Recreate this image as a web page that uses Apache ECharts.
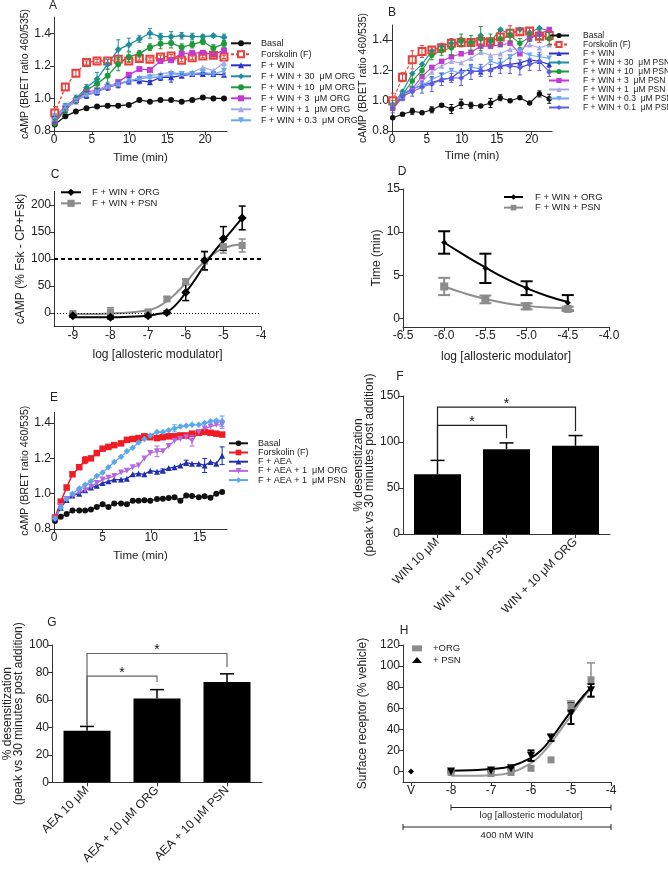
<!DOCTYPE html>
<html>
<head>
<meta charset="utf-8">
<script src="https://cdn.jsdelivr.net/npm/echarts@6/dist/echarts.min.js"></script>
<style>
html, body { margin: 0; padding: 0; background: #fff; }
#chart { width: 668px; height: 874px; }
</style>
</head>
<body>
<div id="chart"></div>
<script>
// ---------------- data ----------------
var timeAB = [0.1, 1.5, 2.9, 4.3, 5.7, 7.1, 8.5, 9.9, 11.3, 12.7, 14.1, 15.5, 16.9, 18.3, 19.7, 21.1, 22.5];

// panel A (ORG)
var aBasal = [0.84, 0.89, 0.92, 0.94, 0.95, 0.955, 0.955, 0.96, 0.99, 0.98, 0.99, 0.99, 0.98, 0.99, 1.005, 1.0, 1.0];
var aForsk = [0.91, 1.07, 1.155, 1.22, 1.23, 1.23, 1.24, 1.23, 1.245, 1.24, 1.255, 1.26, 1.235, 1.25, 1.26, 1.265, 1.255];
var aWin = [0.87, 0.93, 0.99, 1.02, 1.04, 1.07, 1.085, 1.11, 1.11, 1.10, 1.13, 1.13, 1.14, 1.15, 1.15, 1.15, 1.145];
var aOrg30 = [0.88, 0.95, 1.0, 1.065, 1.12, 1.21, 1.30, 1.33, 1.365, 1.40, 1.38, 1.38, 1.385, 1.38, 1.38, 1.385, 1.375];
var aOrg10 = [0.85, 0.93, 0.99, 1.05, 1.09, 1.14, 1.21, 1.255, 1.275, 1.315, 1.335, 1.34, 1.315, 1.33, 1.35, 1.31, 1.335];
var aOrg3 = [0.86, 0.94, 0.99, 1.04, 1.05, 1.07, 1.10, 1.145, 1.18, 1.175, 1.23, 1.235, 1.275, 1.28, 1.28, 1.27, 1.295];
var aOrg1 = [0.88, 0.94, 0.98, 1.03, 1.05, 1.08, 1.09, 1.10, 1.13, 1.14, 1.15, 1.16, 1.15, 1.16, 1.19, 1.17, 1.22];
var aOrg03 = [0.89, 0.95, 0.99, 1.02, 1.04, 1.07, 1.09, 1.11, 1.12, 1.13, 1.13, 1.15, 1.15, 1.15, 1.16, 1.15, 1.17];
var aForskErr = [0.04, 0.02, 0.02, 0.01, 0.01, 0.01, 0.01, 0.01, 0.01, 0.01, 0.01, 0.01, 0.01, 0.01, 0.01, 0.01, 0.01];
var aWinErr = [0.02, 0.02, 0.02, 0.02, 0.02, 0.02, 0.02, 0.02, 0.02, 0.01, 0.02, 0.03, 0.01, 0.01, 0.01, 0.01, 0.01];
var aOrg30Err = [0.02, 0.02, 0.02, 0.02, 0.04, 0.03, 0.06, 0.04, 0.02, 0.03, 0.02, 0.03, 0.02, 0.02, 0.01, 0.01, 0.02];
var aOrg10Err = [0.02, 0.02, 0.02, 0.02, 0.03, 0.04, 0.04, 0.03, 0.02, 0.02, 0.03, 0.03, 0.02, 0.02, 0.02, 0.02, 0.02];
var aOrg03Err = [0.01, 0.01, 0.01, 0.01, 0.01, 0.01, 0.01, 0.01, 0.01, 0.01, 0.01, 0.01, 0.01, 0.01, 0.01, 0.01, 0.03];

// panel B (PSN)
var bBasal = [0.888, 0.91, 0.93, 0.92, 0.94, 0.97, 0.945, 0.98, 0.97, 0.965, 0.985, 1.02, 1.0, 1.02, 0.985, 1.045, 1.013];
var bForsk = [1.0, 1.155, 1.27, 1.325, 1.335, 1.35, 1.38, 1.385, 1.385, 1.39, 1.39, 1.42, 1.445, 1.455, 1.46, 1.425, 1.43];
var bWin = [0.96, 1.04, 1.08, 1.10, 1.12, 1.14, 1.15, 1.20, 1.20, 1.19, 1.21, 1.23, 1.24, 1.25, 1.27, 1.26, 1.24];
var bPsn30 = [0.97, 1.06, 1.18, 1.24, 1.33, 1.36, 1.38, 1.39, 1.39, 1.43, 1.39, 1.47, 1.44, 1.47, 1.45, 1.48, 1.46];
var bPsn10 = [0.97, 1.04, 1.13, 1.20, 1.30, 1.33, 1.35, 1.40, 1.38, 1.41, 1.40, 1.41, 1.43, 1.38, 1.42, 1.44, 1.41];
var bPsn3 = [0.95, 1.02, 1.08, 1.16, 1.22, 1.26, 1.29, 1.31, 1.32, 1.36, 1.36, 1.37, 1.38, 1.31, 1.41, 1.44, 1.47];
var bPsn1 = [0.96, 1.03, 1.07, 1.13, 1.19, 1.23, 1.26, 1.25, 1.28, 1.32, 1.30, 1.31, 1.34, 1.34, 1.37, 1.35, 1.37];
var bPsn03 = [0.97, 1.05, 1.08, 1.10, 1.14, 1.17, 1.20, 1.18, 1.22, 1.21, 1.26, 1.24, 1.29, 1.33, 1.30, 1.29, 1.28];
var bPsn01 = [0.95, 1.03, 1.06, 1.09, 1.11, 1.14, 1.15, 1.15, 1.19, 1.20, 1.20, 1.23, 1.23, 1.22, 1.24, 1.26, 1.19];
var bBasalErr = [0.01, 0.01, 0.02, 0.01, 0.02, 0.01, 0.03, 0.03, 0.02, 0.01, 0.03, 0.02, 0.01, 0.01, 0.01, 0.02, 0.03];
var bForskErr = [0.05, 0.03, 0.06, 0.04, 0.02, 0.03, 0.03, 0.03, 0.02, 0.03, 0.02, 0.04, 0.05, 0.02, 0.02, 0.04, 0.03];
var bPsn10Err = [0.03, 0.03, 0.04, 0.03, 0.03, 0.03, 0.05, 0.04, 0.05, 0.08, 0.04, 0.05, 0.04, 0.03, 0.03, 0.03, 0.04];
var bPsn01Err = [0.03, 0.03, 0.03, 0.04, 0.05, 0.04, 0.03, 0.05, 0.05, 0.04, 0.04, 0.05, 0.05, 0.05, 0.04, 0.06, 0.03];

// panel C (concentration response)
var cX = [-9, -8, -7, -6.5, -6, -5.5, -5, -4.5];
var cOrg = [-5, -8, -5, 1, 38, 97, 138, 176];
var cOrgErr = [3, 3, 3, 3, 15, 17, 22, 22];
var cPsn = [-1, 2, 2, 26, 58, 96, 123, 125];
var cPsnErr = [2, 8, 3, 4, 5, 17, 12, 12];
var cCurveX = [-9, -8.5, -8, -7.5, -7, -6.75, -6.5, -6.25, -6, -5.75, -5.5, -5.25, -5, -4.75, -4.5];
var cOrgCurve = [-8, -8, -8, -7, -5, -2, 2, 16, 38, 62, 89, 113, 134, 155, 176];
var cPsnCurve = [-2, -2, -1, 1, 5, 11, 22, 37, 56, 77, 96, 110, 120, 125, 127];

// panel D (time to peak)
var dX = [-6, -5.5, -5, -4.5];
var dOrg = [8.8, 5.8, 3.5, 1.8];
var dOrgErr = [1.3, 1.7, 0.8, 0.9];
var dPsn = [3.7, 2.2, 1.4, 1.1];
var dPsnErr = [1.0, 0.45, 0.35, 0.25];
var dCurveX = [-6, -5.75, -5.5, -5.25, -5, -4.75, -4.5];
var dOrgCurve = [8.8, 7.3, 5.9, 4.6, 3.5, 2.6, 1.9];
var dPsnCurve = [3.7, 2.9, 2.25, 1.75, 1.45, 1.25, 1.15];

// panel E (AEA)
var timeE = [0.1, 0.7, 1.3, 1.9, 2.6, 3.2, 3.8, 4.4, 5.0, 5.6, 6.2, 6.9, 7.5, 8.1, 8.7, 9.3, 9.9, 10.6, 11.2, 11.8, 12.4, 13.0, 13.6, 14.2, 14.9, 15.5, 16.1, 16.7, 17.3];
var eBasal = [0.845, 0.87, 0.885, 0.905, 0.905, 0.905, 0.91, 0.925, 0.94, 0.925, 0.945, 0.945, 0.94, 0.96, 0.96, 0.963, 0.96, 0.97, 0.972, 0.975, 0.98, 0.96, 0.99, 0.987, 0.98, 0.985, 0.977, 1.0, 1.01];
var eForsk = [0.865, 0.955, 1.035, 1.11, 1.15, 1.19, 1.2, 1.23, 1.255, 1.265, 1.275, 1.285, 1.305, 1.31, 1.315, 1.325, 1.32, 1.315, 1.32, 1.325, 1.325, 1.33, 1.33, 1.34, 1.345, 1.35, 1.345, 1.34, 1.335];
var eAea = [0.86, 0.92, 0.965, 0.99, 1.0, 1.02, 1.035, 1.045, 1.06, 1.07, 1.08, 1.08, 1.085, 1.11, 1.115, 1.11, 1.13, 1.125, 1.13, 1.145, 1.15, 1.16, 1.175, 1.17, 1.17, 1.16, 1.18, 1.17, 1.215];
var eOrg = [0.86, 0.93, 0.97, 0.99, 1.01, 1.02, 1.04, 1.06, 1.08, 1.09, 1.10, 1.12, 1.13, 1.15, 1.16, 1.20, 1.23, 1.24, 1.24, 1.27, 1.30, 1.31, 1.32, 1.30, 1.35, 1.37, 1.38, 1.39, 1.39];
var ePsn = [0.86, 0.92, 0.97, 1.00, 1.03, 1.05, 1.07, 1.10, 1.12, 1.15, 1.18, 1.21, 1.24, 1.26, 1.29, 1.31, 1.33, 1.35, 1.35, 1.36, 1.37, 1.38, 1.385, 1.39, 1.39, 1.40, 1.41, 1.415, 1.41];
var eForskErr = [0, 0, 0, 0, 0, 0.02, 0, 0, 0, 0, 0, 0, 0, 0, 0, 0, 0, 0, 0, 0, 0, 0, 0, 0, 0, 0, 0, 0, 0];
var eAeaErr = [0, 0, 0, 0, 0, 0, 0, 0, 0, 0, 0, 0, 0, 0, 0, 0, 0, 0, 0.01, 0, 0, 0, 0.015, 0, 0, 0.04, 0, 0, 0.05];
var eOrgErr = [0, 0, 0, 0, 0, 0, 0, 0, 0, 0, 0, 0, 0, 0, 0, 0, 0, 0.03, 0, 0, 0, 0, 0, 0.03, 0, 0, 0, 0, 0.02];
var ePsnErr = [0, 0, 0, 0, 0, 0, 0, 0, 0, 0, 0, 0, 0, 0, 0, 0, 0, 0, 0, 0, 0.02, 0, 0, 0, 0, 0, 0, 0, 0.03];

// panel F (WIN desensitization)
var fCats = ['WIN 10 μM', 'WIN + 10 μM PSN', 'WIN + 10 μM ORG'];
var fVals = [65, 92, 96];
var fErr = [15, 7, 11];
// [from, to, level, left foot, right foot]
var fBrackets = [[0, 2, 138, 80, 112], [0, 1, 118, 80, 104]];

// panel G (AEA desensitization)
var gCats = ['AEA 10 μM', 'AEA + 10 μM ORG', 'AEA + 10 μM PSN'];
var gVals = [37.5, 61, 73];
var gErr = [3.2, 6.5, 6];
var gBrackets = [[0, 2, 93.8, 41, 84], [0, 1, 77.3, 41, 73]];

// panel H (surface receptor)
var hX = [-8, -7, -6.5, -6, -5.5, -5, -4.5];
var hOrg = [-1, -2, -1, 3, 11, 62, 87];
var hOrgErr = [0, 0, 0, 0, 0, 5, 16];
var hPsn = [0, 1, 3, 15, 32, 55, 77];
var hPsnErr = [1, 1, 1, 5, 3, 10, 6];
var hVehX = [-9];
var hVeh = [0];
var hCurveX = [-8, -7.5, -7, -6.5, -6, -5.75, -5.5, -5.25, -5, -4.75, -4.5];
var hPsnCurve = [0.7, 1.2, 2.3, 5, 13, 20, 31, 44, 57, 69, 80];
var hOrgCurve = [-4, -4, -3.5, -1, 8, 16, 27, 40, 53, 67, 79];
var hSpans = [[-8, -4], [-9.2, -4]];
var hSpanLabels = ['log [allosteric modulator]', '400 nM WIN'];

// tick values
var tTime = [0, 5, 10, 15, 20];
var tTimeE = [0, 5, 10, 15];
var tBret = [0.8, 1.0, 1.2, 1.4];
var tLog = [-9, -8, -7, -6, -5, -4];
var tC = [0, 50, 100, 150, 200];
var tDx = [-6.5, -6.0, -5.5, -5.0, -4.5, -4.0];
var tDy = [0, 5, 10, 15];
var tF = [0, 50, 100, 150];
var tG = [0, 20, 40, 60, 80, 100];
var tHx = [-9, -8, -7, -6, -5, -4];
var tHy = [0, 20, 40, 60, 80, 100, 120];

// ---------------- chart ----------------
var FONT = 'Liberation Sans, Arial, sans-serif';
var GRAY = '#8c8c8c';

function fixed1(v) { return v.toFixed(1); }

function valAxis(grid, min, max, ticks, o) {
  o = o || {};
  return {
    type: 'value', gridIndex: grid, min: min, max: max,
    axisLine: { show: true, onZero: false, lineStyle: { color: '#333', width: 1 } },
    axisTick: { show: true, length: 4, inside: false, customValues: ticks, lineStyle: { color: '#333' } },
    axisLabel: { customValues: ticks, fontSize: 12, color: '#222', fontFamily: FONT, margin: 3, formatter: o.fmt },
    splitLine: { show: false },
    name: o.name || '', nameLocation: 'middle', nameGap: o.gap || 20,
    nameTextStyle: { fontSize: o.nameSize || 12, color: '#222', fontFamily: FONT, lineHeight: o.lineHeight }
  };
}
function catAxis(grid, cats) {
  return {
    type: 'category', gridIndex: grid, data: cats, boundaryGap: true,
    axisLine: { show: true, lineStyle: { color: '#333', width: 1 } },
    axisTick: { show: true, length: 4, alignWithLabel: true, lineStyle: { color: '#333' } },
    axisLabel: { fontSize: 12, color: '#222', fontFamily: FONT, rotate: 45, margin: 6, interval: 0 },
    splitLine: { show: false }
  };
}

var grids = [
  { left: 54, top: 17, width: 173, height: 114 },    // A
  { left: 392, top: 25, width: 160, height: 106 },   // B
  { left: 54, top: 191.5, width: 207, height: 135 }, // C
  { left: 403, top: 189, width: 206, height: 138 },  // D
  { left: 54, top: 412.5, width: 173, height: 116.5 }, // E
  { left: 403, top: 396, width: 207, height: 138 },  // F
  { left: 52, top: 645, width: 210, height: 137.3 }, // G
  { left: 403, top: 645, width: 208, height: 137 }   // H
];

var xAxes = [
  valAxis(0, 0, 22.9, tTime, { name: 'Time (min)', gap: 21, nameSize: 11.5 }),
  valAxis(1, 0, 22.9, tTime, { name: 'Time (min)', gap: 18.5, nameSize: 11.5 }),
  valAxis(2, -9.5, -4, tLog, { name: 'log [allosteric modulator]', gap: 22 }),
  valAxis(3, -6.5, -4, tDx, { name: 'log [allosteric modulator]', gap: 24, fmt: fixed1 }),
  valAxis(4, 0, 17.8, tTimeE, { name: 'Time (min)', gap: 21, nameSize: 11.5 }),
  catAxis(5, fCats),
  catAxis(6, gCats),
  valAxis(7, -9.2, -4, tHx, { fmt: function (v) { return v === -9 ? 'V' : String(v); } })
];
var yAxes = [
  valAxis(0, 0.8, 1.5, tBret, { name: 'cAMP (BRET ratio 460/535)', gap: 21, nameSize: 10.5, fmt: fixed1 }),
  valAxis(1, 0.8, 1.5, tBret, { name: 'cAMP (BRET ratio 460/535)', gap: 20, nameSize: 10.5, fmt: fixed1 }),
  valAxis(2, -25, 225, tC, { name: 'cAMP (% Fsk - CP+Fsk)', gap: 23 }),
  valAxis(3, -1, 15, tDy, { name: 'Time (min)', gap: 19 }),
  valAxis(4, 0.8, 1.46, tBret, { name: 'cAMP (BRET ratio 460/535)', gap: 23, nameSize: 10.5, fmt: fixed1 }),
  valAxis(5, 0, 150, tF, { name: '% desensitization\n(peak vs 30 minutes post addition)', gap: 28, lineHeight: 11 }),
  valAxis(6, 0, 100, tG, { name: '% desensitization\n(peak vs 30 minutes post addition)', gap: 28, lineHeight: 11 }),
  valAxis(7, -10, 120, tHy, { name: 'Surface receptor (% vehicle)', gap: 34 })
];

var series = [];

function pairs(xs, ys) { return xs.map(function (x, i) { return [x, ys[i]]; }); }

function addLine(g, name, xs, ys, color, symbol, size, o) {
  o = o || {};
  series.push({
    type: 'line', name: name, xAxisIndex: g, yAxisIndex: g,
    data: pairs(xs, ys),
    symbol: symbol, symbolSize: size, symbolRotate: o.rotate || 0,
    showSymbol: o.showSymbol !== false, smooth: o.smooth || false,
    lineStyle: { color: color, width: o.width || 1.3, type: o.dash || 'solid' },
    itemStyle: { color: color, borderWidth: o.border || 0, borderColor: color },
    z: o.z || 3, silent: true, animation: false, markLine: o.markLine
  });
}
function addScatter(g, name, xs, ys, color, symbol, size, rotate, z) {
  series.push({
    type: 'scatter', name: name, xAxisIndex: g, yAxisIndex: g,
    data: pairs(xs, ys), symbol: symbol, symbolSize: size, symbolRotate: rotate || 0,
    itemStyle: { color: color, opacity: 1 }, z: z || 5, silent: true, animation: false
  });
}
function addErr(g, xs, ys, es, color, cap, width, upOnly) {
  var items = [];
  xs.forEach(function (x, i) {
    if (!es[i]) return;
    items.push([x, upOnly ? ys[i] : ys[i] - es[i], ys[i] + es[i]]);
  });
  series.push({
    type: 'custom', xAxisIndex: g, yAxisIndex: g, data: items, silent: true, z: 4,
    encode: { x: 0, y: [1, 2] },
    renderItem: function (params, api) {
      var lo = api.coord([api.value(0), api.value(1)]);
      var hi = api.coord([api.value(0), api.value(2)]);
      var st = { stroke: color, lineWidth: width, fill: null };
      var kids = [
        { type: 'line', shape: { x1: lo[0], y1: lo[1], x2: hi[0], y2: hi[1] }, style: st },
        { type: 'line', shape: { x1: hi[0] - cap, y1: hi[1], x2: hi[0] + cap, y2: hi[1] }, style: st }
      ];
      if (!upOnly) kids.push({ type: 'line', shape: { x1: lo[0] - cap, y1: lo[1], x2: lo[0] + cap, y2: lo[1] }, style: st });
      return { type: 'group', children: kids };
    }
  });
}
function addBrackets(g, items, color) {
  series.push({
    type: 'custom', xAxisIndex: g, yAxisIndex: g, data: items, silent: true, z: 6,
    encode: { x: [0, 1], y: [2, 3, 4] },
    renderItem: function (params, api) {
      var a = api.value(0), b = api.value(1), y = api.value(2);
      var p1 = api.coord([a, api.value(3)]), p2 = api.coord([a, y]);
      var p3 = api.coord([b, y]), p4 = api.coord([b, api.value(4)]);
      return {
        type: 'group', children: [
          { type: 'polyline', shape: { points: [p1, p2, p3, p4] }, style: { stroke: color, lineWidth: 1.2, fill: null } },
          { type: 'text', x: (p2[0] + p3[0]) / 2, y: p2[1] - 3,
            style: { text: '*', fontSize: 14, fontFamily: FONT, fill: '#111', align: 'center', verticalAlign: 'middle' } }
        ]
      };
    }
  });
}

// A
var blue = '#2a35c8', teal = '#1f8e9e', green = '#1e9a3a', mag = '#c23ad6', lav = '#a9a8e6', lblue = '#6aa8f0', red = '#e8403a';
addLine(0, 'A|Basal', timeAB, aBasal, '#111', 'circle', 6);
addLine(0, 'A|Forskolin (F)', timeAB, aForsk, red, 'emptyRect', 7, { dash: [3, 2], border: 1.3 });
addLine(0, 'A|F + WIN', timeAB, aWin, blue, 'triangle', 6);
addLine(0, 'A|F + WIN + 30  μM ORG', timeAB, aOrg30, teal, 'diamond', 7);
addLine(0, 'A|F + WIN + 10  μM ORG', timeAB, aOrg10, green, 'circle', 6);
addLine(0, 'A|F + WIN + 3  μM ORG', timeAB, aOrg3, mag, 'rect', 6);
addLine(0, 'A|F + WIN + 1  μM ORG', timeAB, aOrg1, lav, 'triangle', 6);
addLine(0, 'A|F + WIN + 0.3  μM ORG', timeAB, aOrg03, lblue, 'triangle', 6, { rotate: 180 });
addErr(0, timeAB, aForsk, aForskErr, red, 2, 1, false);
addErr(0, timeAB, aWin, aWinErr, blue, 2, 1, false);
addErr(0, timeAB, aOrg30, aOrg30Err, teal, 2, 1, false);
addErr(0, timeAB, aOrg10, aOrg10Err, green, 2, 1, false);
addErr(0, timeAB, aOrg03, aOrg03Err, lblue, 2, 1, false);

// B
var violet = '#5c5ce6';
addLine(1, 'B|Basal', timeAB, bBasal, '#111', 'circle', 5.5, { width: 1.1 });
addLine(1, 'B|Forskolin (F)', timeAB, bForsk, red, 'emptyRect', 7, { dash: [3, 2], width: 1.1, border: 1.2 });
addLine(1, 'B|F + WIN', timeAB, bWin, blue, 'triangle', 5.5, { width: 1.1 });
addLine(1, 'B|F + WIN + 30  μM PSN', timeAB, bPsn30, teal, 'diamond', 6.5, { width: 1.1 });
addLine(1, 'B|F + WIN + 10  μM PSN', timeAB, bPsn10, green, 'circle', 5.5, { width: 1.1 });
addLine(1, 'B|F + WIN + 3  μM PSN', timeAB, bPsn3, mag, 'rect', 5.5, { width: 1.1 });
addLine(1, 'B|F + WIN + 1  μM PSN', timeAB, bPsn1, lav, 'triangle', 5.5, { width: 1.1 });
addLine(1, 'B|F + WIN + 0.3  μM PSN', timeAB, bPsn03, lblue, 'triangle', 5.5, { rotate: 180, width: 1.1 });
addLine(1, 'B|F + WIN + 0.1  μM PSN', timeAB, bPsn01, violet, 'diamond', 6, { width: 1.1 });
addErr(1, timeAB, bBasal, bBasalErr, '#111', 2, 1, false);
addErr(1, timeAB, bForsk, bForskErr, red, 2, 1, false);
addErr(1, timeAB, bPsn10, bPsn10Err, green, 2, 1, false);
addErr(1, timeAB, bPsn01, bPsn01Err, violet, 2, 1, false);

// C
addLine(2, 'C|F + WIN + PSN', cCurveX, cPsnCurve, GRAY, 'rect', 7, {
  showSymbol: false, smooth: true, width: 2,
  markLine: {
    silent: true, symbol: 'none', label: { show: false }, animation: false,
    data: [
      { yAxis: 100, lineStyle: { type: [4, 3], width: 2, color: '#000' } },
      { yAxis: 0, lineStyle: { type: [1, 2], width: 1, color: '#000' } }
    ]
  }
});
addLine(2, 'C|F + WIN + ORG', cCurveX, cOrgCurve, '#000', 'diamond', 9, { showSymbol: false, smooth: true, width: 2 });
addErr(2, cX, cPsn, cPsnErr, GRAY, 3.5, 1.5, false);
addErr(2, cX, cOrg, cOrgErr, '#000', 3.5, 1.5, false);
addScatter(2, 'c_psn', cX, cPsn, GRAY, 'rect', 7);
addScatter(2, 'c_org', cX, cOrg, '#000', 'diamond', 9);

// D
addLine(3, 'D|F + WIN + ORG', dCurveX, dOrgCurve, '#000', 'diamond', 6, { showSymbol: false, smooth: true, width: 2 });
addLine(3, 'D|F + WIN + PSN', dCurveX, dPsnCurve, GRAY, 'rect', 7, { showSymbol: false, smooth: true, width: 2 });
addErr(3, dX, dOrg, dOrgErr, '#000', 6, 2, false);
addErr(3, dX, dPsn, dPsnErr, GRAY, 6, 2, false);
addScatter(3, 'd_org', dX, dOrg, '#000', 'diamond', 6);
addScatter(3, 'd_psn', dX, dPsn, GRAY, 'rect', 8);

// E
var eRed = '#ee1c24', eBlue = '#1f2fb0', eViolet = '#b768e0', eLight = '#5aa7ee';
addLine(4, 'E|Basal', timeE, eBasal, '#111', 'circle', 6);
addLine(4, 'E|Forskolin (F)', timeE, eForsk, eRed, 'rect', 6.5, { width: 1.5 });
addLine(4, 'E|F + AEA', timeE, eAea, eBlue, 'triangle', 6);
addLine(4, 'E|F + AEA + 1  μM ORG', timeE, eOrg, eViolet, 'triangle', 6, { rotate: 180 });
addLine(4, 'E|F + AEA + 1  μM PSN', timeE, ePsn, eLight, 'diamond', 6.5);
addErr(4, timeE, eForsk, eForskErr, eRed, 2, 1, false);
addErr(4, timeE, eAea, eAeaErr, eBlue, 2.5, 1, false);
addErr(4, timeE, eOrg, eOrgErr, eViolet, 2.5, 1, false);
addErr(4, timeE, ePsn, ePsnErr, eLight, 2.5, 1, false);

// F
series.push({ type: 'bar', xAxisIndex: 5, yAxisIndex: 5, data: fVals, barWidth: 47, itemStyle: { color: '#000' }, silent: true, z: 2 });
addErr(5, [0, 1, 2], fVals, fErr, '#000', 7, 1.5, true);
addBrackets(5, fBrackets, '#222');

// G
series.push({ type: 'bar', xAxisIndex: 6, yAxisIndex: 6, data: gVals, barWidth: 47, itemStyle: { color: '#000' }, silent: true, z: 2 });
addErr(6, [0, 1, 2], gVals, gErr, '#000', 7, 1.5, true);
addBrackets(6, gBrackets, '#666');

// H
addLine(7, 'h_org_fit', hCurveX, hOrgCurve, '#9a9a9a', 'none', 0, { showSymbol: false, smooth: true, width: 2 });
addLine(7, 'h_psn_fit', hCurveX, hPsnCurve, '#000', 'none', 0, { showSymbol: false, smooth: true, width: 2 });
addErr(7, hX, hOrg, hOrgErr, GRAY, 4, 1.5, false);
addErr(7, hX, hPsn, hPsnErr, '#000', 3.5, 2, false);
addScatter(7, 'H|+ORG', hX, hOrg, GRAY, 'rect', 7);
addScatter(7, 'H|+ PSN', hX, hPsn, '#000', 'triangle', 8, 180);
addScatter(7, 'h_vehicle', hVehX, hVeh, '#000', 'diamond', 6);
series.push({
  type: 'custom', xAxisIndex: 7, yAxisIndex: 7, data: hSpans, silent: true, z: 6, clip: false,
  encode: { x: [0, 1] },
  renderItem: function (params, api) {
    var off = [25.5, 45][params.dataIndex];
    var p0 = api.coord([api.value(0), -10]), p1 = api.coord([api.value(1), -10]);
    var y = p0[1] + off;
    var st = { stroke: '#222', lineWidth: 1, fill: null };
    return {
      type: 'group', children: [
        { type: 'line', shape: { x1: p0[0], y1: y, x2: p1[0], y2: y }, style: st },
        { type: 'line', shape: { x1: p0[0], y1: y - 3, x2: p0[0], y2: y + 3 }, style: st },
        { type: 'line', shape: { x1: p1[0], y1: y - 3, x2: p1[0], y2: y + 3 }, style: st },
        { type: 'text', x: (p0[0] + p1[0]) / 2, y: y + 3,
          style: { text: hSpanLabels[params.dataIndex], fontSize: 9.5, fontFamily: FONT, fill: '#222', align: 'center', verticalAlign: 'top' } }
      ]
    };
  }
});

function names(prefix, order) {
  var list = series.filter(function (s) { return s.name && s.name.indexOf(prefix + '|') === 0; })
    .map(function (s) { return s.name; });
  return order ? order.map(function (k) { return prefix + '|' + k; }) : list;
}
function legend(prefix, left, top, iw, ih, fs, lh, pad, order) {
  return {
    data: names(prefix, order), orient: 'vertical', left: left, top: top, padding: 0,
    itemWidth: iw, itemHeight: ih, itemGap: 0, selectedMode: false,
    formatter: function (n) { return n.split('|')[1]; },
    textStyle: { fontSize: fs, lineHeight: lh, color: '#222', fontFamily: FONT, padding: [0, 0, 0, pad] }
  };
}

var panelLabels = [['A', 53, 6], ['B', 392, 13], ['C', 55, 175], ['D', 402, 172], ['E', 54, 398], ['F', 400, 377], ['G', 52, 623], ['H', 404, 631]];

var chart = echarts.init(document.getElementById('chart'), null, { renderer: 'canvas' });
chart.setOption({
  animation: false,
  backgroundColor: '#fff',
  grid: grids,
  xAxis: xAxes,
  yAxis: yAxes,
  legend: [
    legend('A', 230, 37.8, 20, 7.5, 9, 11, 5),
    legend('B', 548, 31, 20, 6.5, 8.5, 8.9, 9),
    legend('C', 60, 186.8, 20, 9, 9.5, 11, 6, ['F + WIN + ORG', 'F + WIN + PSN']),
    legend('D', 503, 191.7, 19, 7, 9.5, 10.6, 7),
    legend('E', 228, 438.7, 19, 7, 9, 9.2, 5),
    legend('H', 412, 642.5, 10, 6, 9.5, 11.7, 6)
  ],
  graphic: panelLabels.map(function (p) {
    return { type: 'text', x: p[1], y: p[2], style: { text: p[0], fontSize: 12, fontFamily: FONT, fill: '#222', align: 'center', verticalAlign: 'middle' } };
  }),
  series: series
});
</script>
</body>
</html>
